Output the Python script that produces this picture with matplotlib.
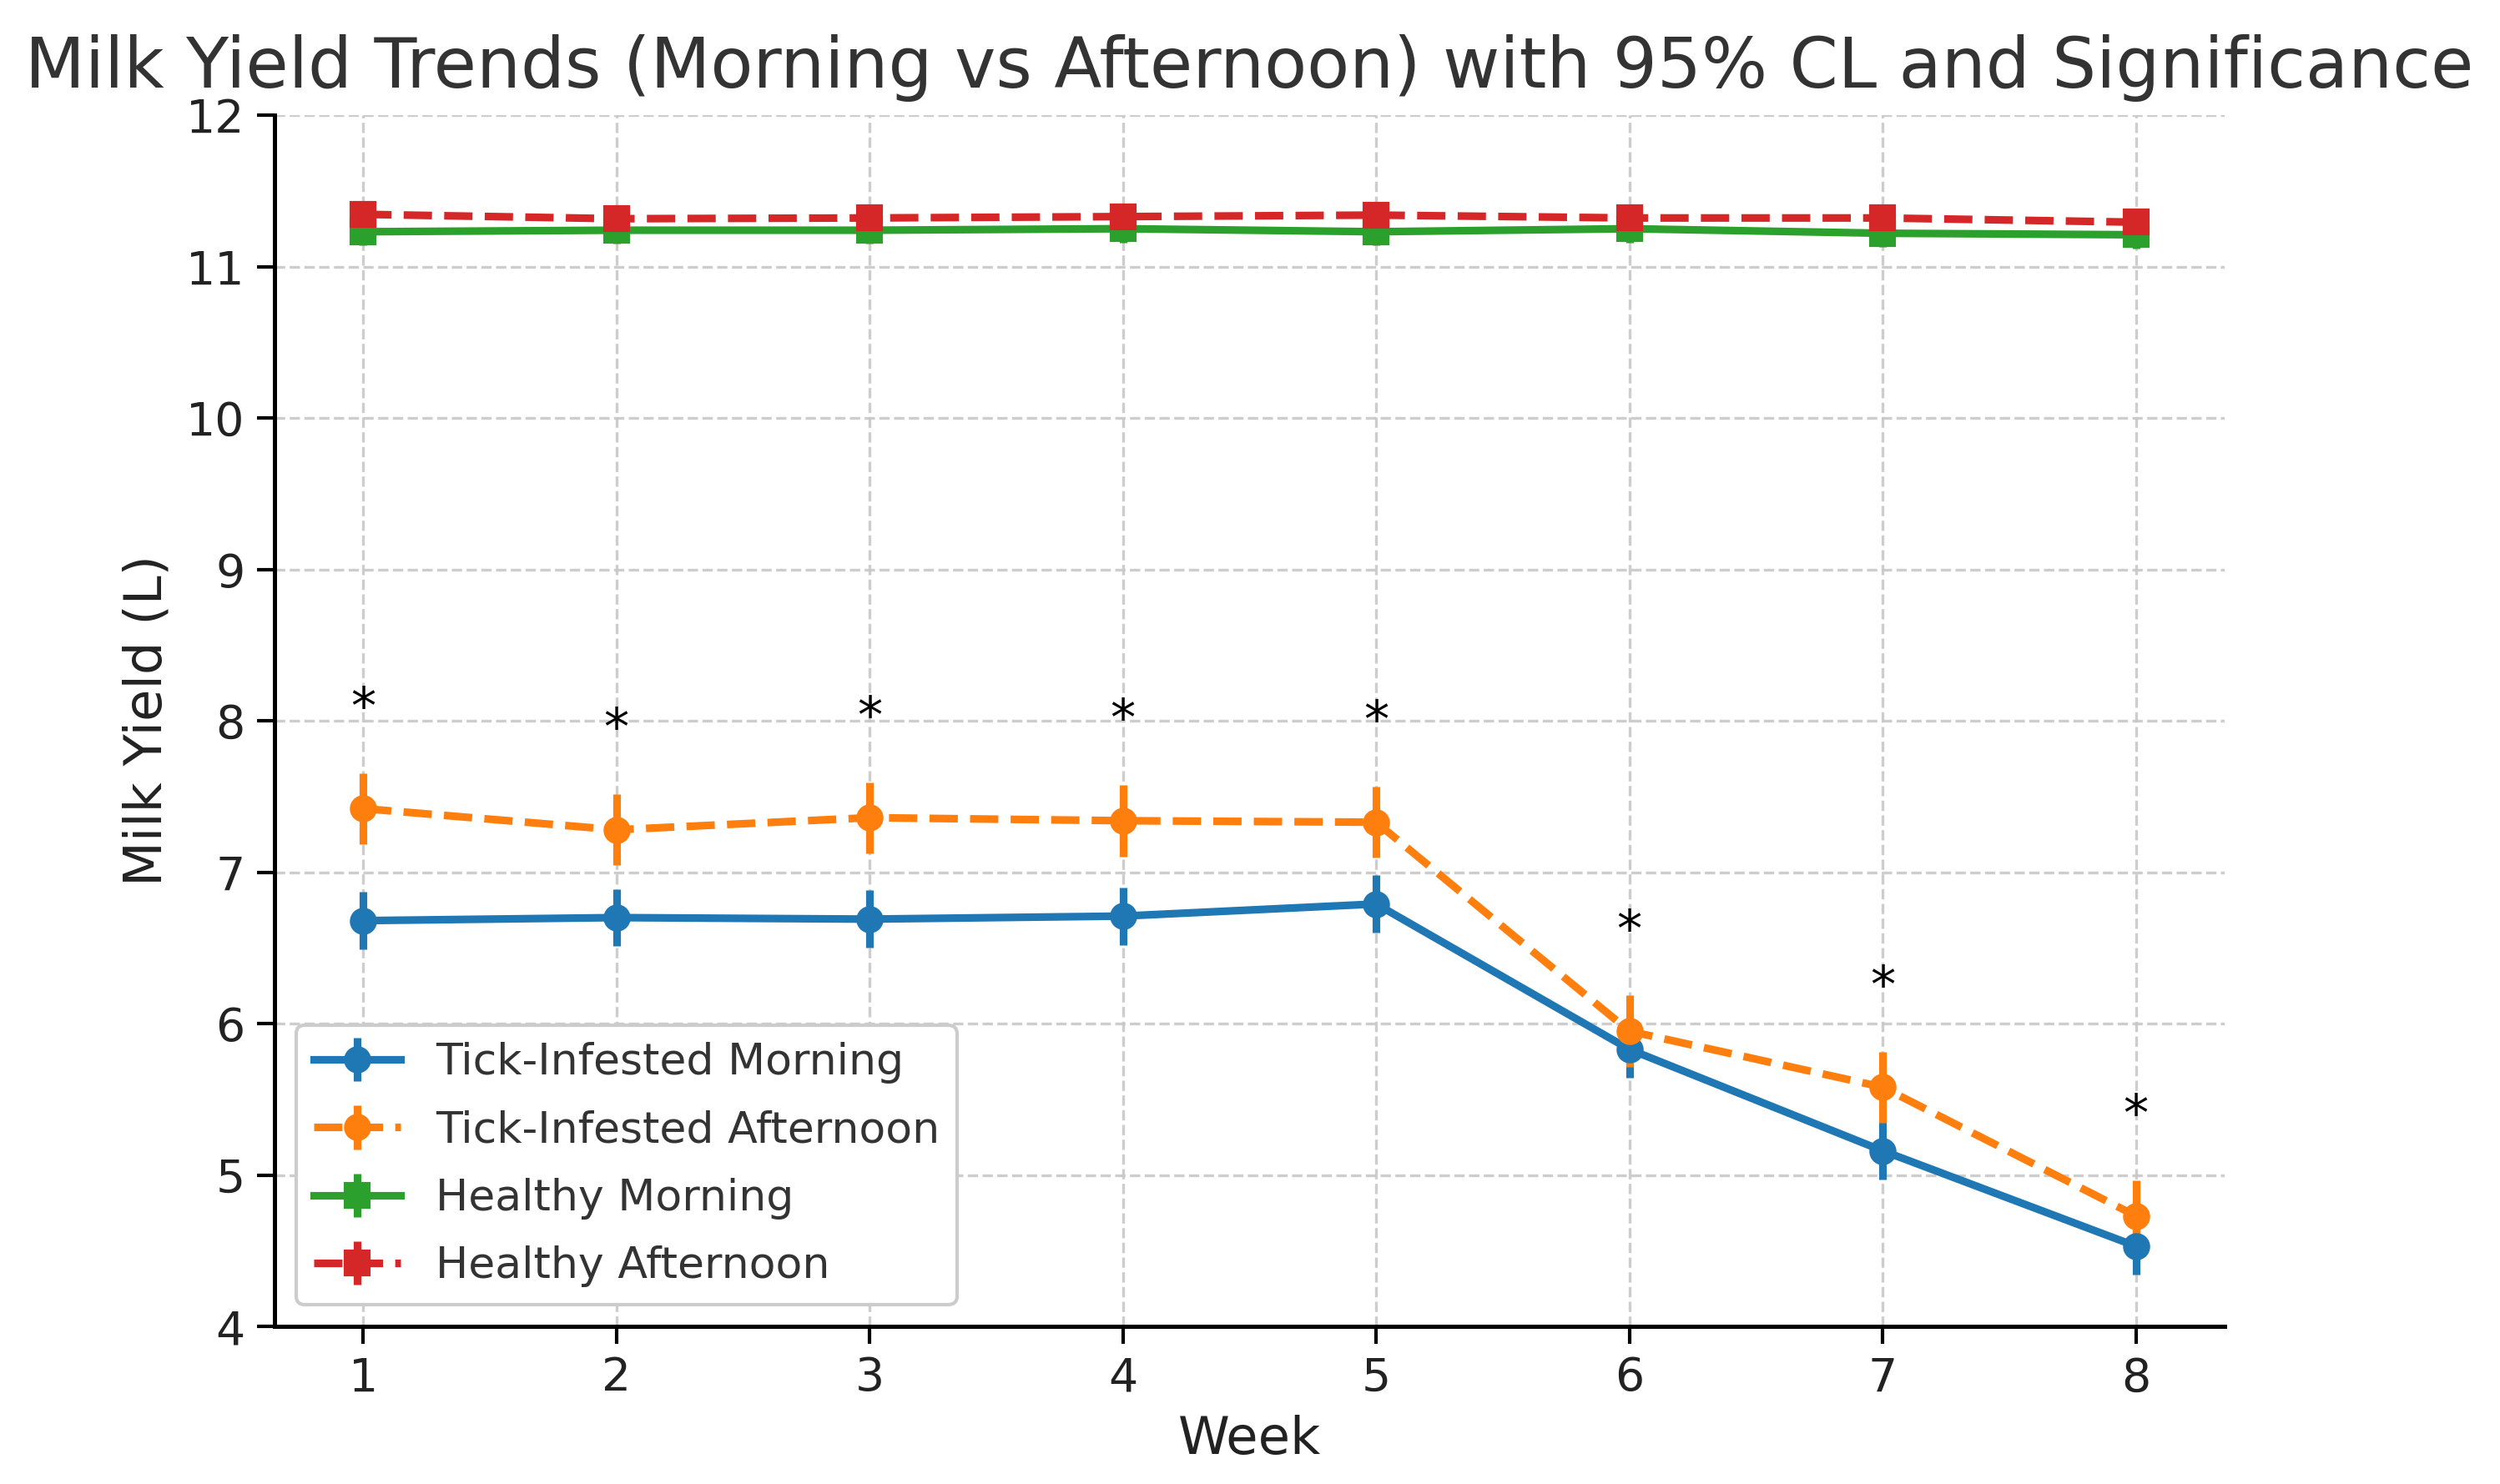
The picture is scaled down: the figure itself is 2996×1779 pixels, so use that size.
import matplotlib
matplotlib.use("Agg")
import matplotlib.pyplot as plt
import numpy as np

weeks = [1, 2, 3, 4, 5, 6, 7, 8]
tick_morning = [6.68, 6.70, 6.69, 6.71, 6.79, 5.83, 5.16, 4.53]
tick_morning_ci = [0.19, 0.19, 0.19, 0.19, 0.19, 0.19, 0.19, 0.19]
tick_afternoon = [7.42, 7.28, 7.36, 7.34, 7.33, 5.95, 5.58, 4.73]
tick_afternoon_ci = [0.235, 0.235, 0.235, 0.235, 0.235, 0.235, 0.235, 0.235]
healthy_morning = [11.23, 11.24, 11.24, 11.25, 11.23, 11.25, 11.22, 11.21]
healthy_morning_ci = [0.09, 0.09, 0.09, 0.09, 0.09, 0.09, 0.09, 0.09]
healthy_afternoon = [11.345, 11.316, 11.321, 11.33, 11.34, 11.321, 11.321, 11.293]
healthy_afternoon_ci = [0.087, 0.087, 0.087, 0.087, 0.087, 0.087, 0.087, 0.087]
significant = [True] * 8

fig = plt.figure(figsize=(2996 / 300, 1779 / 300), dpi=300)
ax = fig.add_axes([0.1098, 0.1062, 0.78, 0.8162])

kw = dict(lw=2.2, elinewidth=2.2, capsize=0, markersize=6.8)
ax.errorbar(weeks, tick_morning, yerr=tick_morning_ci, fmt='-o', color='#1f77b4',
            label='Tick-Infested Morning', **kw)
ax.errorbar(weeks, tick_afternoon, yerr=tick_afternoon_ci, fmt='--o', color='#ff7f0e',
            label='Tick-Infested Afternoon', **kw)
ax.errorbar(weeks, healthy_morning, yerr=healthy_morning_ci, fmt='-s', color='#2ca02c',
            label='Healthy Morning', **kw)
ax.errorbar(weeks, healthy_afternoon, yerr=healthy_afternoon_ci, fmt='--s', color='#d62728',
            label='Healthy Afternoon', **kw)

for w, s, m, mc, a, ac in zip(weeks, significant, tick_morning, tick_morning_ci,
                              tick_afternoon, tick_afternoon_ci):
    if s:
        top = max(m + mc, a + ac)
        ax.text(w, top + 0.33, '*', ha='center', va='baseline', fontsize=14.5, color='black')

ax.set_ylim(4, 12)
ax.set_xlim(0.65, 8.35)
ax.set_xticks(weeks)
ax.set_yticks(range(4, 13))
ax.tick_params(labelsize=13.3, length=5, width=1, labelcolor='#222222')
ax.grid(True, linestyle='--', color='#c8c8c8', linewidth=0.8, alpha=0.9)
for sp in ['top', 'right']:
    ax.spines[sp].set_visible(False)
ax.spines['left'].set_linewidth(1.2)
ax.spines['bottom'].set_linewidth(1.2)
ax.set_xlabel('Week', fontsize=15, color='#222222')
ax.set_ylabel('Milk Yield (L)', fontsize=15, color='#222222')
ax.set_title('Milk Yield Trends (Morning vs Afternoon) with 95% CL and Significance',
             fontsize=20, color='#333333', pad=8)
leg = ax.legend(loc='lower left', fontsize=12.5, frameon=True, fancybox=True,
                edgecolor='#cccccc', framealpha=1, labelspacing=0.6)
for t in leg.get_texts():
    t.set_color('#333333')

fig.savefig('out.png', dpi=300)
